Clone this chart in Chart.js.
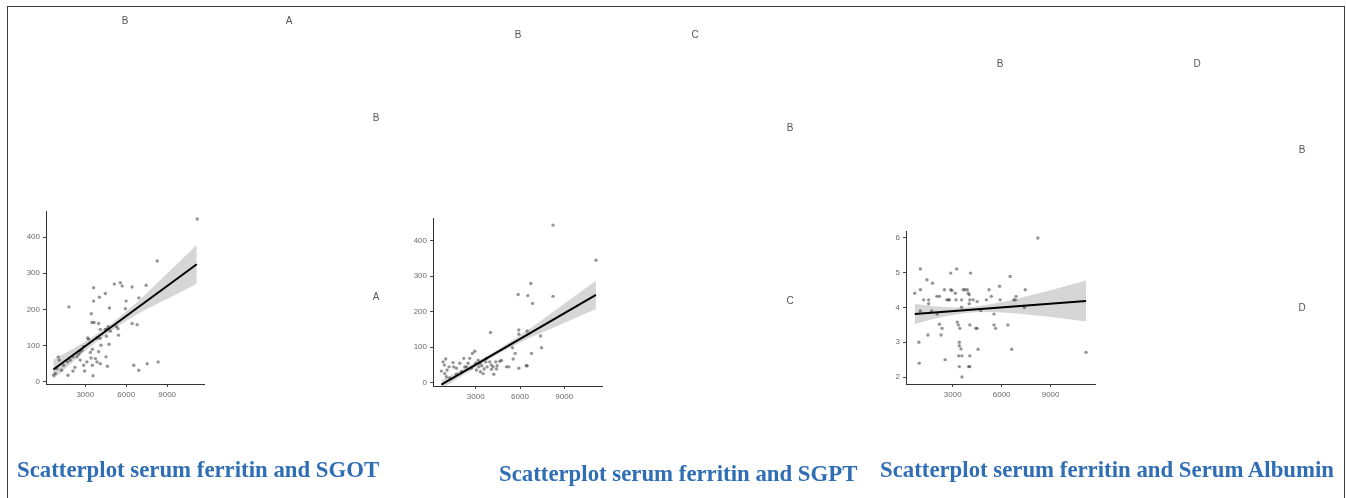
<!DOCTYPE html>
<html>
<head>
<meta charset="utf-8">
<script src="https://cdn.jsdelivr.net/npm/chart.js@4.4.1/dist/chart.umd.min.js"></script>
<style>
  html, body { margin: 0; padding: 0; background: #fff; width: 1346px; height: 498px; overflow: hidden; }
  #frame { position: absolute; left: 7px; top: 6px; width: 1336px; height: 520px; border: 1.5px solid #3a3a3a; border-bottom: none; }
  canvas { position: absolute; left: 0; top: 0; }
  .lbl { position: absolute; font-family: "Liberation Sans", Arial, sans-serif; font-size: 10px; line-height: 10px; color: #555; transform: translateX(-50%); }
  .ttl { position: absolute; font-family: "Liberation Serif", "Times New Roman", serif; font-weight: bold; font-size: 22.8px; line-height: 22.8px; color: #2f6db5; white-space: nowrap; }
</style>
</head>
<body>
<div id="frame"></div>
<canvas id="c1" width="1346" height="498"></canvas>
<canvas id="c2" width="1346" height="498"></canvas>
<canvas id="c3" width="1346" height="498"></canvas>

<div class="lbl" style="left:125px;top:16px">B</div>
<div class="lbl" style="left:289px;top:16px">A</div>
<div class="lbl" style="left:376px;top:113px">B</div>
<div class="lbl" style="left:376px;top:292px">A</div>
<div class="lbl" style="left:518px;top:30px">B</div>
<div class="lbl" style="left:695px;top:30px">C</div>
<div class="lbl" style="left:790px;top:123px">B</div>
<div class="lbl" style="left:790px;top:296px">C</div>
<div class="lbl" style="left:1000px;top:59px">B</div>
<div class="lbl" style="left:1197px;top:59px">D</div>
<div class="lbl" style="left:1302px;top:145px">B</div>
<div class="lbl" style="left:1302px;top:303px">D</div>

<div class="ttl" style="left:17px;top:459px">Scatterplot serum ferritin and SGOT</div>
<div class="ttl" style="left:499px;top:463px">Scatterplot serum ferritin and SGPT</div>
<div class="ttl" style="left:880px;top:459px">Scatterplot serum ferritin and Serum Albumin</div>

<script>
// ---------- Panel 1: serum ferritin vs SGOT ----------
const p1X = [11200,8270,7460,6430,5570,5700,5130,4470,3610,4030,3610,5990,5940,4770,1800,3440,3490,3640,3980,4100,4470,4590,4840,4550,4080,4150,4740,5430,6430,6800,6920,5280,3170,3250,3520,3370,3980,3740,3420,3520,2880,2630,2510,2390,2100,1900,1700,1410,1260,1020,1090,920,670,800,1730,2100,2240,2630,2880,2950,3120,3860,4100,4520,4620,3570,6550,6920,7530,8340,5400,4670,3860,2760];
const p1Y = [450,334,267,262,274,265,270,244,260,234,223,223,202,204,207,188,164,164,161,145,145,145,140,126,120,101,104,129,161,158,232,152,121,118,90,81,83,64,66,46,97,83,76,69,69,60,55,46,32,69,60,37,18,23,18,30,40,60,46,30,55,55,50,69,43,17,46,32,50,55,147,152,121,87];
const p1FitX = [660, 11170];
const p1FitY = [34, 325];
const p1BandX = [660, 2000, 3500, 4800, 6000, 7500, 9000, 11170];
const p1BandLow = [7, 53, 101, 138, 168, 201, 229, 271];
const p1BandHigh = [61, 89, 123, 158, 194, 245, 299, 379];
const p1XTicks = [3000, 6000, 9000];
const p1YTicks = [0, 100, 200, 300, 400];

// ---------- Panel 2: serum ferritin vs SGPT ----------
const p2X = [8240,11150,6735,5874,6531,8241,6849,3996,5920,5920,6486,7391,7459,6781,5672,5491,5536,5920,6418,6486,5083,5242,4630,4743,4449,4177,4064,4222,3566,3498,3408,3272,3158,2932,2773,2592,2479,2185,2253,2026,1913,1460,1505,1188,1052,962,781,872,668,894,1007,1234,1687,2999,3724,3951,4358,3770,3045,3317,2705,1687,2366,3679,3204,4064,4404];
const p2Y = [444,345,279,248,245,243,223,141,148,136,145,131,98,82,82,98,66,40,47,47,44,44,60,62,47,44,37,23,38,25,47,54,63,88,82,68,54,68,44,30,54,56,44,44,35,66,58,49,32,25,16,13,23,54,68,58,58,44,35,30,40,40,44,58,44,49,38];
const p2FitX = [668, 11150];
const p2FitY = [-6, 247];
const p2BandX = [668, 2000, 3500, 4500, 6000, 7500, 9000, 11150];
const p2BandLow = [-18, 17, 55, 80, 113, 141, 168, 207];
const p2BandHigh = [6, 35, 69, 93, 133, 177, 222, 287];
const p2XTicks = [3000, 6000, 9000];
const p2YTicks = [0, 100, 200, 300, 400];

// ---------- Panel 3: serum ferritin vs Serum Albumin ----------
const p3X = [8218,11170,1019,3245,4094,2879,1424,1767,6519,5872,5225,7449,1019,2495,2879,2961,3650,3751,3893,676,3165,3953,4014,6884,5368,2030,2191,1222,1525,2636,2738,2798,3202,3546,4050,4252,4497,5063,5912,6741,6843,1525,4014,3546,4719,1019,1706,2050,5530,7393,2191,3279,3346,5530,6378,2352,3437,4416,4497,5631,4050,1485,2291,3406,3406,3507,4558,6620,929,3366,3568,2535,949,3406,3971,4052,3568,4052];
const p3Y = [6.0,2.71,5.11,5.11,4.99,4.99,4.80,4.70,4.89,4.61,4.51,4.51,4.51,4.51,4.51,4.49,4.51,4.51,4.51,4.41,4.41,4.41,4.37,4.32,4.32,4.32,4.32,4.22,4.22,4.22,4.22,4.22,4.22,4.22,4.22,4.22,4.17,4.22,4.22,4.22,4.22,4.11,4.11,4.01,3.91,3.90,3.90,3.81,3.81,4.00,3.52,3.58,3.50,3.50,3.50,3.40,3.40,3.40,3.40,3.40,3.50,3.21,3.21,3.00,2.90,2.81,2.80,2.80,3.00,2.61,2.61,2.50,2.40,2.30,2.30,2.30,2.00,2.61];
const p3FitX = [676, 11170];
const p3FitY = [3.81, 4.19];
const p3BandX = [676, 2000, 3500, 5000, 6500, 8000, 9500, 11170];
const p3BandLow = [3.52, 3.69, 3.82, 3.87, 3.84, 3.78, 3.70, 3.60];
const p3BandHigh = [4.10, 4.03, 4.00, 4.07, 4.20, 4.38, 4.56, 4.78];
const p3XTicks = [3000, 6000, 9000];
const p3YTicks = [2, 3, 4, 5, 6];

function pts(xs, ys) { return xs.map((x, i) => ({ x: x, y: ys[i] })); }

function makePanel(id, d, box) {
  const W = 1346, H = 498, YW = 30, XH = 20;
  const tickFont = { family: 'Liberation Sans', size: 8 };
  new Chart(document.getElementById(id), {
    type: 'scatter',
    data: {
      datasets: [
        { type: 'line', data: pts(d.fitX, d.fitY), borderColor: '#000', borderWidth: 2, pointRadius: 0, fill: false, tension: 0 },
        { type: 'scatter', data: pts(d.x, d.y), backgroundColor: 'rgba(45,45,45,0.5)', borderColor: 'rgba(45,45,45,0)', borderWidth: 0, pointRadius: 1.7 },
        { type: 'line', data: pts(d.bandX, d.bandHigh), borderWidth: 0, borderColor: 'rgba(0,0,0,0)', pointRadius: 0, fill: '+1', backgroundColor: 'rgba(200,200,200,0.75)', tension: 0.4, cubicInterpolationMode: 'monotone' },
        { type: 'line', data: pts(d.bandX, d.bandLow), borderWidth: 0, borderColor: 'rgba(0,0,0,0)', pointRadius: 0, fill: false, tension: 0.4, cubicInterpolationMode: 'monotone' }
      ]
    },
    options: {
      responsive: false,
      animation: false,
      devicePixelRatio: 1,
      layout: { padding: { left: box.l - YW, right: W - box.r, top: box.t, bottom: H - box.b - XH } },
      plugins: { legend: { display: false }, tooltip: { enabled: false }, title: { display: false } },
      scales: {
        x: {
          type: 'linear', min: box.xmin, max: box.xmax,
          afterBuildTicks: s => { s.ticks = d.xTicks.map(v => ({ value: v })); },
          afterFit: s => { s.height = XH; },
          grid: { drawOnChartArea: false, drawTicks: true, tickLength: 3, color: '#444', lineWidth: 1 },
          border: { display: true, color: '#333', width: 1 },
          ticks: { color: '#6a6a6a', font: tickFont, padding: 3, maxRotation: 0, autoSkip: false, callback: v => String(v) }
        },
        y: {
          type: 'linear', min: box.ymin, max: box.ymax,
          afterBuildTicks: s => { s.ticks = d.yTicks.map(v => ({ value: v })); },
          afterFit: s => { s.width = YW; },
          grid: { drawOnChartArea: false, drawTicks: true, tickLength: 3, color: '#444', lineWidth: 1 },
          border: { display: true, color: '#333', width: 1 },
          ticks: { color: '#6a6a6a', font: tickFont, padding: 3, autoSkip: false, callback: v => String(v) }
        }
      }
    }
  });
}

makePanel('c1', { x: p1X, y: p1Y, fitX: p1FitX, fitY: p1FitY, bandX: p1BandX, bandLow: p1BandLow, bandHigh: p1BandHigh, xTicks: p1XTicks, yTicks: p1YTicks },
  { l: 46, r: 204, t: 211, b: 384, xmin: 120, xmax: 11700, ymin: -6, ymax: 472 });
makePanel('c2', { x: p2X, y: p2Y, fitX: p2FitX, fitY: p2FitY, bandX: p2BandX, bandLow: p2BandLow, bandHigh: p2BandHigh, xTicks: p2XTicks, yTicks: p2YTicks },
  { l: 433, r: 602, t: 218, b: 386, xmin: 100, xmax: 11560, ymin: -10, ymax: 464 });
makePanel('c3', { x: p3X, y: p3Y, fitX: p3FitX, fitY: p3FitY, bandX: p3BandX, bandLow: p3BandLow, bandHigh: p3BandHigh, xTicks: p3XTicks, yTicks: p3YTicks },
  { l: 906, r: 1095, t: 231, b: 384, xmin: 140, xmax: 11720, ymin: 1.8, ymax: 6.2 });
</script>
</body>
</html>
